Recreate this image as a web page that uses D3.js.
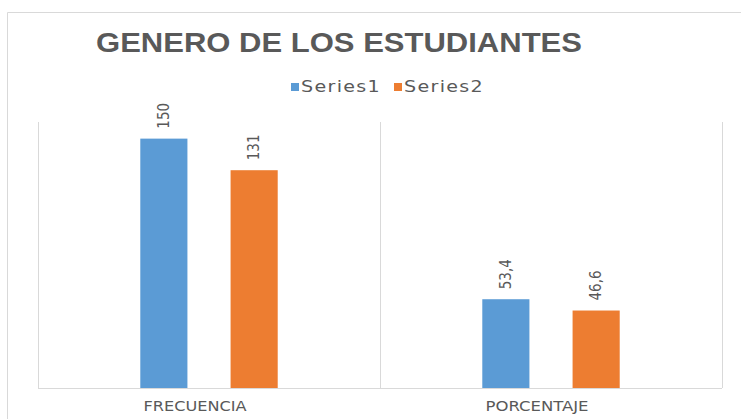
<!DOCTYPE html>
<html>
<head>
<meta charset="utf-8">
<script src="https://cdn.jsdelivr.net/npm/d3@7"></script>
<style>
  body { margin: 0; background: #fff; }
  text { fill: #595959; }
</style>
</head>
<body>
<div id="chart"></div>
<script>
// chart data
const categories = ["FRECUENCIA", "PORCENTAJE"];
const seriesNames = ["Series1", "Series2"];
const series1 = [150, 53.4];
const series2 = [131, 46.6];
const valueLabels = [["150", "131"], ["53,4", "46,6"]];

const colors = ["#5b9bd5", "#ed7d31"];

const W = 741, H = 419;
const margin = {top: 122, right: 19, bottom: 31, left: 38};
const width = W - margin.left - margin.right,
      height = H - margin.top - margin.bottom;

const svg = d3.select("#chart")
  .append("svg")
  .attr("width", W)
  .attr("height", H);

// chart frame (only top and left edges visible)
svg.append("path")
  .attr("d", `M7.5,${H} V12.5 H${W}`)
  .attr("fill", "none")
  .attr("stroke", "#d9d9d9");

// title
svg.append("text")
  .attr("x", 96)
  .attr("y", 52)
  .attr("textLength", 486)
  .attr("lengthAdjust", "spacingAndGlyphs")
  .style("font-family", "'Liberation Sans', 'Open Sans', sans-serif")
  .style("font-weight", "bold")
  .style("font-size", "28px")
  .text("GENERO DE LOS ESTUDIANTES");

// legend
const legend = svg.append("g");
const legendX = [291, 394];
seriesNames.forEach(function(name, i) {
  legend.append("rect")
    .attr("x", legendX[i])
    .attr("y", 83)
    .attr("width", 8)
    .attr("height", 8)
    .attr("fill", colors[i]);
  legend.append("text")
    .attr("x", legendX[i] + 10)
    .attr("y", 92)
    .attr("textLength", 80)
    .attr("lengthAdjust", "spacingAndGlyphs")
    .style("font-family", "'Liberation Sans Narrow', 'DejaVu Sans Condensed', sans-serif")
    .style("font-size", "16px")
    .style("letter-spacing", "1px")
    .text(name);
});

const g = svg.append("g")
  .attr("transform", `translate(${margin.left}, ${margin.top})`);

const x0 = d3.scaleBand()
  .domain(categories)
  .range([0, width]);

const x1 = d3.scaleBand()
  .domain(seriesNames)
  .range([0, x0.bandwidth()])
  .paddingInner(0.478)
  .paddingOuter(1.133);

const y = d3.scaleLinear()
  .domain([0, 160])
  .range([height, 0]);

// vertical category separators
const seps = [0].concat(categories.map(c => x0(c) + x0.bandwidth()));
g.selectAll(".sep")
  .data(seps)
  .join("line")
    .attr("class", "sep")
    .attr("x1", d => d + 0.5)
    .attr("x2", d => d + 0.5)
    .attr("y1", 0)
    .attr("y2", height)
    .attr("stroke", "#d9d9d9");

// bars
const rows = categories.map((c, i) => ({cat: c, values: [series1[i], series2[i]], labels: valueLabels[i]}));

const groups = g.selectAll(".grp")
  .data(rows)
  .join("g")
    .attr("class", "grp")
    .attr("transform", d => `translate(${x0(d.cat)},0)`);

groups.selectAll("rect")
  .data(d => d.values.map((v, j) => ({name: seriesNames[j], v: v, label: d.labels[j], j: j})))
  .join("rect")
    .attr("x", d => x1(d.name))
    .attr("y", d => y(d.v))
    .attr("width", x1.bandwidth())
    .attr("height", d => height - y(d.v))
    .attr("fill", d => colors[d.j]);

groups.selectAll(".lbl")
  .data(d => d.values.map((v, j) => ({name: seriesNames[j], v: v, label: d.labels[j]})))
  .join("text")
    .attr("class", "lbl")
    .attr("transform", d => `translate(${x1(d.name) + x1.bandwidth() / 2 + 5}, ${y(d.v) - 10}) rotate(-90)`)
    .style("font-family", "'Liberation Sans Narrow', 'DejaVu Sans Condensed', sans-serif")
    .style("font-size", "15px")
    .text(d => d.label);

// x axis
g.append("line")
  .attr("x1", 0)
  .attr("x2", width)
  .attr("y1", height + 0.5)
  .attr("y2", height + 0.5)
  .attr("stroke", "#d9d9d9");

g.selectAll(".cat")
  .data(categories)
  .join("text")
    .attr("class", "cat")
    .attr("x", d => x0(d) + x0.bandwidth() / 2 - 14)
    .attr("y", height + 23)
    .attr("text-anchor", "middle")
    .attr("textLength", 103)
    .attr("lengthAdjust", "spacingAndGlyphs")
    .style("font-family", "'Liberation Sans Narrow', 'DejaVu Sans Condensed', sans-serif")
    .style("font-size", "14px")
    .text(d => d);
</script>
</body>
</html>
